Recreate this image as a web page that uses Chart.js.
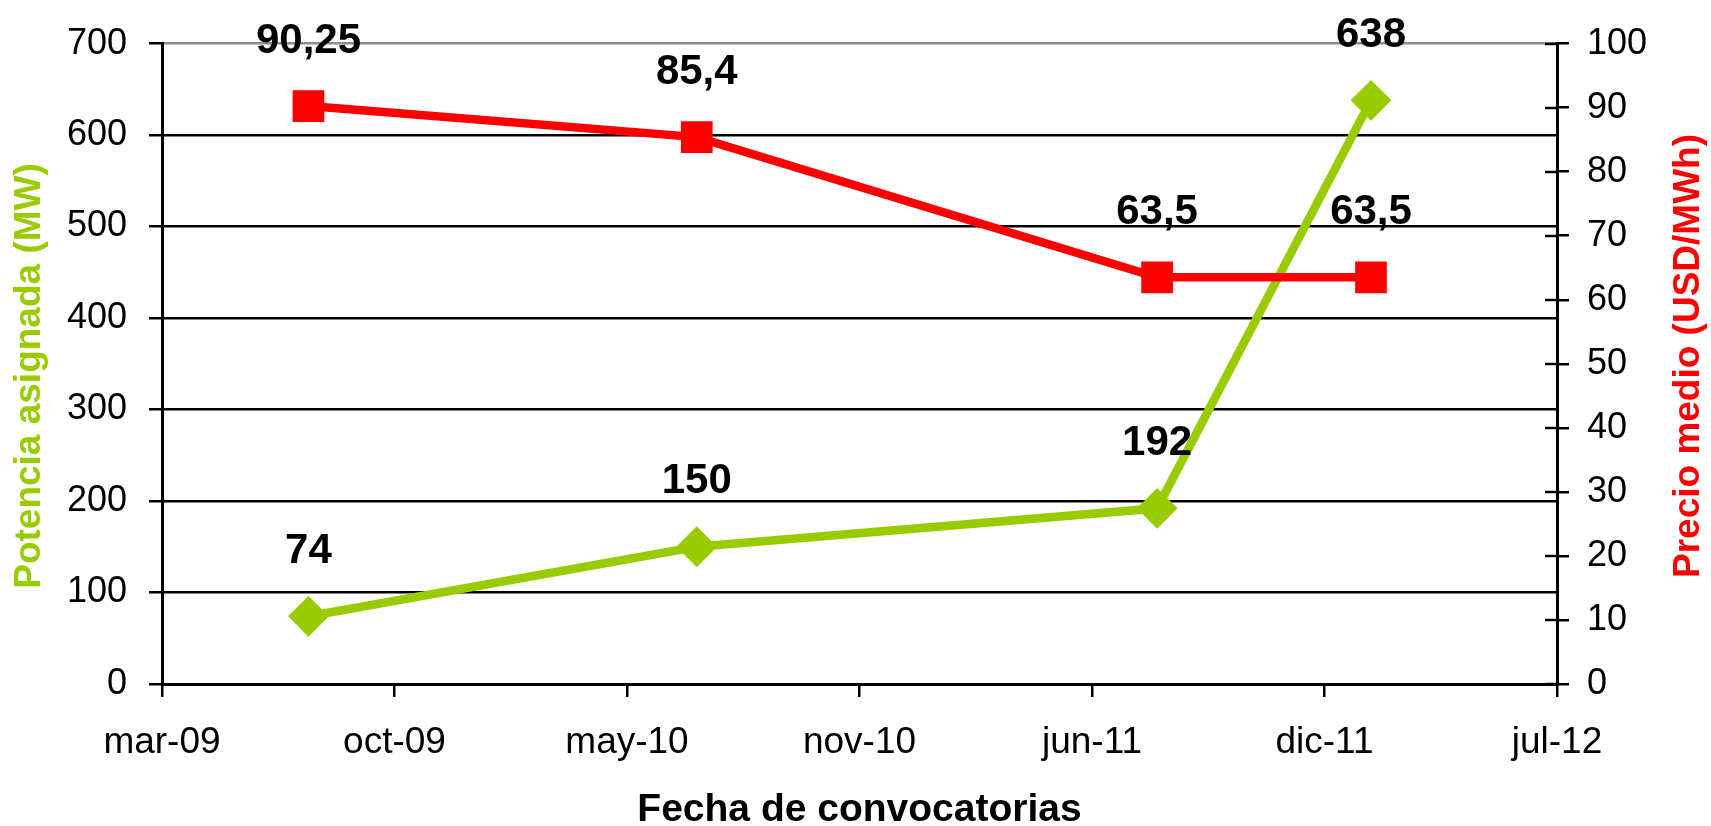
<!DOCTYPE html>
<html>
<head>
<meta charset="utf-8">
<script src="https://cdn.jsdelivr.net/npm/chart.js@4"></script>
<style>
  html, body { margin: 0; padding: 0; background: #fff; }
  #wrap { width: 1711px; height: 826px; position: relative; }
</style>
</head>
<body>
<div id="wrap"><canvas id="c"></canvas></div>
<script>
// ---- Data ----
const fechas = ['2009-08-01', '2010-07-01', '2011-08-01', '2012-02-01'];
const potenciaMW = [74, 150, 192, 638];
const precioUSD = [90.25, 85.4, 63.5, 63.5];
const mesesES = ['ene','feb','mar','abr','may','jun','jul','ago','sep','oct','nov','dic'];
const xMin = 39900, xMax = 41100, xStep = 200;   // Excel date serials
const yTicks = { min: 0, max: 700, step: 100 };
const y1Ticks = { min: 0, max: 100, step: 10 };

const EPOCH = Date.UTC(1899, 11, 30);
const toSerial = s => Math.round((Date.parse(s + 'T00:00:00Z') - EPOCH) / 86400000);
const serialLabel = v => {
  const d = new Date(EPOCH + v * 86400000);
  return mesesES[d.getUTCMonth()] + '-' + String(d.getUTCFullYear()).slice(2);
};
const fmtES = v => String(v).replace('.', ',');

const GREEN = '#99CC00';
const RED = '#FF0000';
const FONT = '"Liberation Sans", Arial, sans-serif';

const valueLabels = {
  id: 'valueLabels',
  afterDatasetsDraw(chart) {
    const ctx = chart.ctx;
    ctx.save();
    ctx.font = 'bold 42px ' + FONT;
    ctx.fillStyle = '#000';
    ctx.textAlign = 'center';
    ctx.textBaseline = 'middle';
    chart.data.datasets.forEach((ds, i) => {
      const meta = chart.getDatasetMeta(i);
      meta.data.forEach((pt, j) => {
        ctx.fillText(fmtES(ds.data[j].y), pt.x, pt.y - 65);
      });
    });
    ctx.restore();
  }
};

function verticalTitle(ctx, text, x, y, color) {
  ctx.save();
  ctx.translate(x, y);
  ctx.rotate(-Math.PI / 2);
  ctx.font = 'bold 37px ' + FONT;
  ctx.fillStyle = color;
  ctx.textAlign = 'center';
  ctx.textBaseline = 'middle';
  ctx.fillText(text, 0, 0);
  ctx.restore();
}

const extras = {
  id: 'extras',
  afterDraw(chart) {
    const ctx = chart.ctx;
    const s = chart.scales.y1;
    ctx.save();
    ctx.strokeStyle = '#000';
    ctx.lineWidth = 2.5;
    s.ticks.forEach(t => {
      const y = Math.round(s.getPixelForValue(t.value));
      ctx.beginPath();
      ctx.moveTo(s.left - 12, y);
      ctx.lineTo(s.left, y);
      ctx.stroke();
    });
    ctx.restore();
    verticalTitle(ctx, 'Potencia asignada (MW)', 30, 376, GREEN);
    verticalTitle(ctx, 'Precio medio (USD/MWh)', 1689, 356, RED);
  }
};

new Chart(document.getElementById('c'), {
  type: 'line',
  data: {
    datasets: [
      {
        label: 'Potencia asignada (MW)',
        data: fechas.map((f, i) => ({ x: toSerial(f), y: potenciaMW[i] })),
        yAxisID: 'y',
        borderColor: GREEN,
        backgroundColor: GREEN,
        borderWidth: 8.5,
        pointStyle: 'rectRot',
        pointRadius: 19,
        pointBorderWidth: 2,
        pointBorderColor: GREEN,
        pointBackgroundColor: GREEN,
        tension: 0,
        order: 1
      },
      {
        label: 'Precio medio (USD/MWh)',
        data: fechas.map((f, i) => ({ x: toSerial(f), y: precioUSD[i] })),
        yAxisID: 'y1',
        borderColor: RED,
        backgroundColor: RED,
        borderWidth: 8.5,
        pointStyle: 'rect',
        pointRadius: 21,
        pointBorderWidth: 2,
        pointBorderColor: RED,
        pointBackgroundColor: RED,
        tension: 0,
        order: 0
      }
    ]
  },
  options: {
    responsive: true,
    maintainAspectRatio: false,
    animation: false,
    devicePixelRatio: 1,
    layout: { padding: { top: 40, left: 0, right: 0, bottom: 0 } },
    plugins: { legend: { display: false }, tooltip: { enabled: false } },
    scales: {
      x: {
        type: 'linear',
        position: 'bottom',
        min: xMin, max: xMax,
        afterFit(s) { s.height = 142; },
        ticks: {
          stepSize: xStep,
          autoSkip: false,
          maxRotation: 0,
          padding: 24,
          color: '#000',
          font: { family: FONT, size: 37 },
          callback: v => serialLabel(v)
        },
        grid: { drawOnChartArea: false, drawTicks: true, tickLength: 13, tickColor: '#000', lineWidth: 2.5 },
        border: { color: '#000', width: 3 },
        title: {
          display: true,
          text: 'Fecha de convocatorias',
          color: '#000',
          font: { family: FONT, size: 39, weight: 'bold', lineHeight: 0.8 },
          padding: { top: 0, bottom: 0 }
        }
      },
      y: {
        position: 'left',
        min: yTicks.min, max: yTicks.max,
        afterFit(s) { s.width = 162; },
        ticks: {
          stepSize: yTicks.step,
          padding: 22,
          color: '#000',
          font: { family: FONT, size: 36 }
        },
        grid: {
          drawOnChartArea: true,
          tickLength: 13,
          tickColor: '#000',
          lineWidth: 2.5,
          color: c => (c.tick && c.tick.value === yTicks.max) ? '#8c8c8c' : '#000'
        },
        border: { color: '#000', width: 3 }
      },
      y1: {
        position: 'right',
        min: y1Ticks.min, max: y1Ticks.max,
        afterFit(s) { s.width = 154; },
        ticks: {
          stepSize: y1Ticks.step,
          padding: 18,
          color: '#000',
          font: { family: FONT, size: 36 }
        },
        grid: { drawOnChartArea: false, tickLength: 12, tickColor: '#000', lineWidth: 2.5 },
        border: { color: '#000', width: 3 }
      }
    }
  },
  plugins: [valueLabels, extras]
});
</script>
</body>
</html>
